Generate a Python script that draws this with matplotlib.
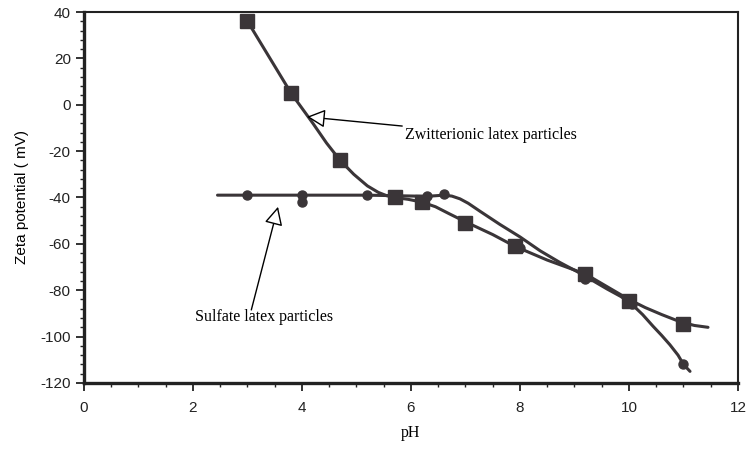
import matplotlib
matplotlib.use("Agg")
import matplotlib.pyplot as plt
from matplotlib.ticker import MultipleLocator

plt.rcParams["axes.unicode_minus"] = False

zwit_ph = [3.0, 3.8, 4.7, 5.7, 6.2, 7.0, 7.9, 9.2, 10.0, 11.0]
zwit_zeta = [36, 5, -24, -40, -42, -51, -61, -73, -84.5, -94.5]

sulf_ph = [3.0, 4.0, 4.0, 5.2, 6.3, 6.6, 8.0, 9.2, 10.05, 11.0]
sulf_zeta = [-39, -39, -42, -39, -39.5, -38.5, -62, -75, -86, -112]

# ── Hand-drawn fitted curves ──
zwit_curve_ph = [3.0, 3.4, 3.8, 4.0, 4.2, 4.45, 4.7, 4.95, 5.2, 5.4, 5.55, 5.7,
                 5.95, 6.2, 6.45, 6.7, 7.0, 7.5, 7.9, 8.5, 9.2, 9.6, 10.0,
                 10.3, 10.6, 10.85, 11.0, 11.2, 11.45]
zwit_curve_zeta = [36, 20.5, 5, -1.5, -8, -16.5, -24, -30, -35, -37.8, -39.2, -40,
                   -40.8, -42, -44, -47, -50.5, -56, -61, -67, -73, -78.5, -84,
                   -87.5, -90.5, -92.8, -94, -95.2, -96]

sulf_curve_ph = [2.45, 3.0, 4.0, 5.2, 6.3, 6.6, 6.75, 6.9, 7.05, 7.27, 7.63,
                 8.0, 8.37, 8.73, 9.05, 9.2, 9.6, 9.85, 10.05, 10.25, 10.44,
                 10.6, 10.75, 10.9, 11.0, 11.12]
sulf_curve_zeta = [-39, -39, -39, -39, -39.5, -39, -39.4, -40.6, -42.5, -46, -51.6,
                   -57, -63, -68, -72, -74, -79.5, -82.7, -86, -90.5, -95.5,
                   -99.5, -103.5, -108, -112, -115]

INK = "#3a3538"

fig = plt.figure(figsize=(7.48, 4.5), dpi=100)
ax = fig.add_axes([0.1123, 0.149, 0.8743, 0.8243])

ax.plot(zwit_curve_ph, zwit_curve_zeta, color=INK, lw=2.2,
        solid_capstyle="round", solid_joinstyle="round")
ax.plot(sulf_curve_ph, sulf_curve_zeta, color=INK, lw=2.2,
        solid_capstyle="round", solid_joinstyle="round")
ax.plot(zwit_ph, zwit_zeta, ls="none", marker="s", ms=9.5, color=INK)
ax.plot(sulf_ph, sulf_zeta, ls="none", marker="o", ms=6.5, color=INK)

# ── Annotations with hollow arrow heads ──
arrow = dict(arrowstyle="-|>,head_length=0.7,head_width=0.35", fc="white",
             ec="black", lw=1.0, mutation_scale=16, shrinkA=0, shrinkB=0)
ax.annotate("Zwitterionic latex particles", xy=(4.09, -5.2), xytext=(5.89, -12.9),
            fontsize=11.5, family="Liberation Serif", va="center", ha="left",
            arrowprops=arrow)
ax.annotate("", xy=(3.56, -44), xytext=(3.07, -88.5), arrowprops=arrow)
ax.text(2.04, -91.6, "Sulfate latex particles", fontsize=11.5,
        family="Liberation Serif", va="center", ha="left")

# ── Axes ──
ax.set_xlim(0, 12)
ax.set_ylim(-120, 40)
ax.xaxis.set_major_locator(MultipleLocator(2))
ax.xaxis.set_minor_locator(MultipleLocator(0.5))
ax.yaxis.set_major_locator(MultipleLocator(20))
ax.yaxis.set_minor_locator(MultipleLocator(4))
ax.tick_params(which="major", direction="out", length=6, width=1.3,
               labelsize=11, colors="#222222")
ax.tick_params(axis="x", which="major", pad=7)
ax.tick_params(which="minor", direction="out", length=3, width=1.0, colors="#222222")
for lab in ax.get_xticklabels() + ax.get_yticklabels():
    lab.set_family("Liberation Sans")

for side in ["left", "bottom"]:
    ax.spines[side].set_linewidth(2.4)
for side in ["top", "right"]:
    ax.spines[side].set_linewidth(1.5)
for sp in ax.spines.values():
    sp.set_color("#222222")

ax.set_xlabel("pH", fontsize=11.5, family="Liberation Serif", labelpad=7)
ax.set_ylabel("Zeta potential ( mV)", fontsize=11, family="Liberation Sans", labelpad=8)

fig.savefig("out.png", dpi=100)
plt.close()
